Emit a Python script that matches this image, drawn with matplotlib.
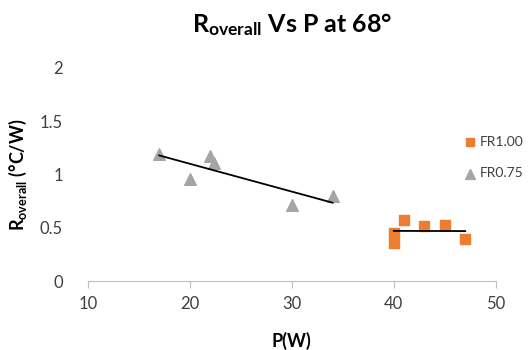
import numpy as np
import matplotlib.pyplot as plt

plt.rcParams['font.family'] = ['Lato', 'DejaVu Sans']
plt.rcParams['mathtext.fontset'] = 'custom'
plt.rcParams['mathtext.rm'] = 'Lato'
plt.rcParams['mathtext.bf'] = 'Lato:bold'

# FR1.00 (orange squares)
p_fr100 = [40, 40, 41, 43, 45, 47]
r_fr100 = [0.45, 0.36, 0.57, 0.52, 0.53, 0.39]

# FR0.75 (grey triangles)
p_fr075 = [17, 20, 22, 22.4, 30, 34]
r_fr075 = [1.19, 0.96, 1.17, 1.11, 0.71, 0.80]

orange = "#ED7D31"
grey = "#A5A5A5"

fig = plt.figure(figsize=(5.32, 3.5), dpi=100)
ax = fig.add_axes([0.165, 0.197, 0.767, 0.609])

ax.scatter(p_fr100, r_fr100, marker="s", s=55, color=orange, label="FR1.00", zorder=3)
ax.scatter(p_fr075, r_fr075, marker="^", s=70, color=grey, label="FR0.75", zorder=3)

# linear trendlines
for xs, ys in [(p_fr075, r_fr075), (p_fr100, r_fr100)]:
    k, b = np.polyfit(xs, ys, 1)
    xx = np.array([min(xs), max(xs)])
    ax.plot(xx, k * xx + b, color="black", linewidth=1.3, zorder=4)

ax.set_xlim(10, 50)
ax.set_ylim(0, 2)
ax.set_xticks([10, 20, 30, 40, 50])
ax.set_yticks([0, 0.5, 1, 1.5, 2])
ax.set_yticklabels(["0", "0.5", "1", "1.5", "2"])

for s in ["top", "right", "left"]:
    ax.spines[s].set_visible(False)
ax.spines["bottom"].set_color("#BFBFBF")
ax.tick_params(axis="x", colors="#BFBFBF", length=5, labelcolor="#404040", labelsize=12, pad=6)
ax.tick_params(axis="y", length=0, labelcolor="#404040", labelsize=12, pad=18)

ax.set_title(r"$\mathbf{R_{overall}}$ Vs P at 68°", fontsize=18, fontweight="bold", pad=26)
ax.set_xlabel("P(W)", fontsize=13, fontweight="bold", labelpad=14)
ax.set_ylabel(r"$\mathbf{R_{overall}}$ (°C/W)", fontsize=13, fontweight="bold", labelpad=8)

ax.legend(loc="center left", bbox_to_anchor=(0.865, 0.55), bbox_transform=fig.transFigure,
          frameon=False, borderpad=0, borderaxespad=0, fontsize=10, handletextpad=0.0,
          handlelength=1.4, labelspacing=1.4, scatterpoints=1, markerscale=0.85,
          labelcolor="#404040")

fig.savefig("out.png", dpi=100)
